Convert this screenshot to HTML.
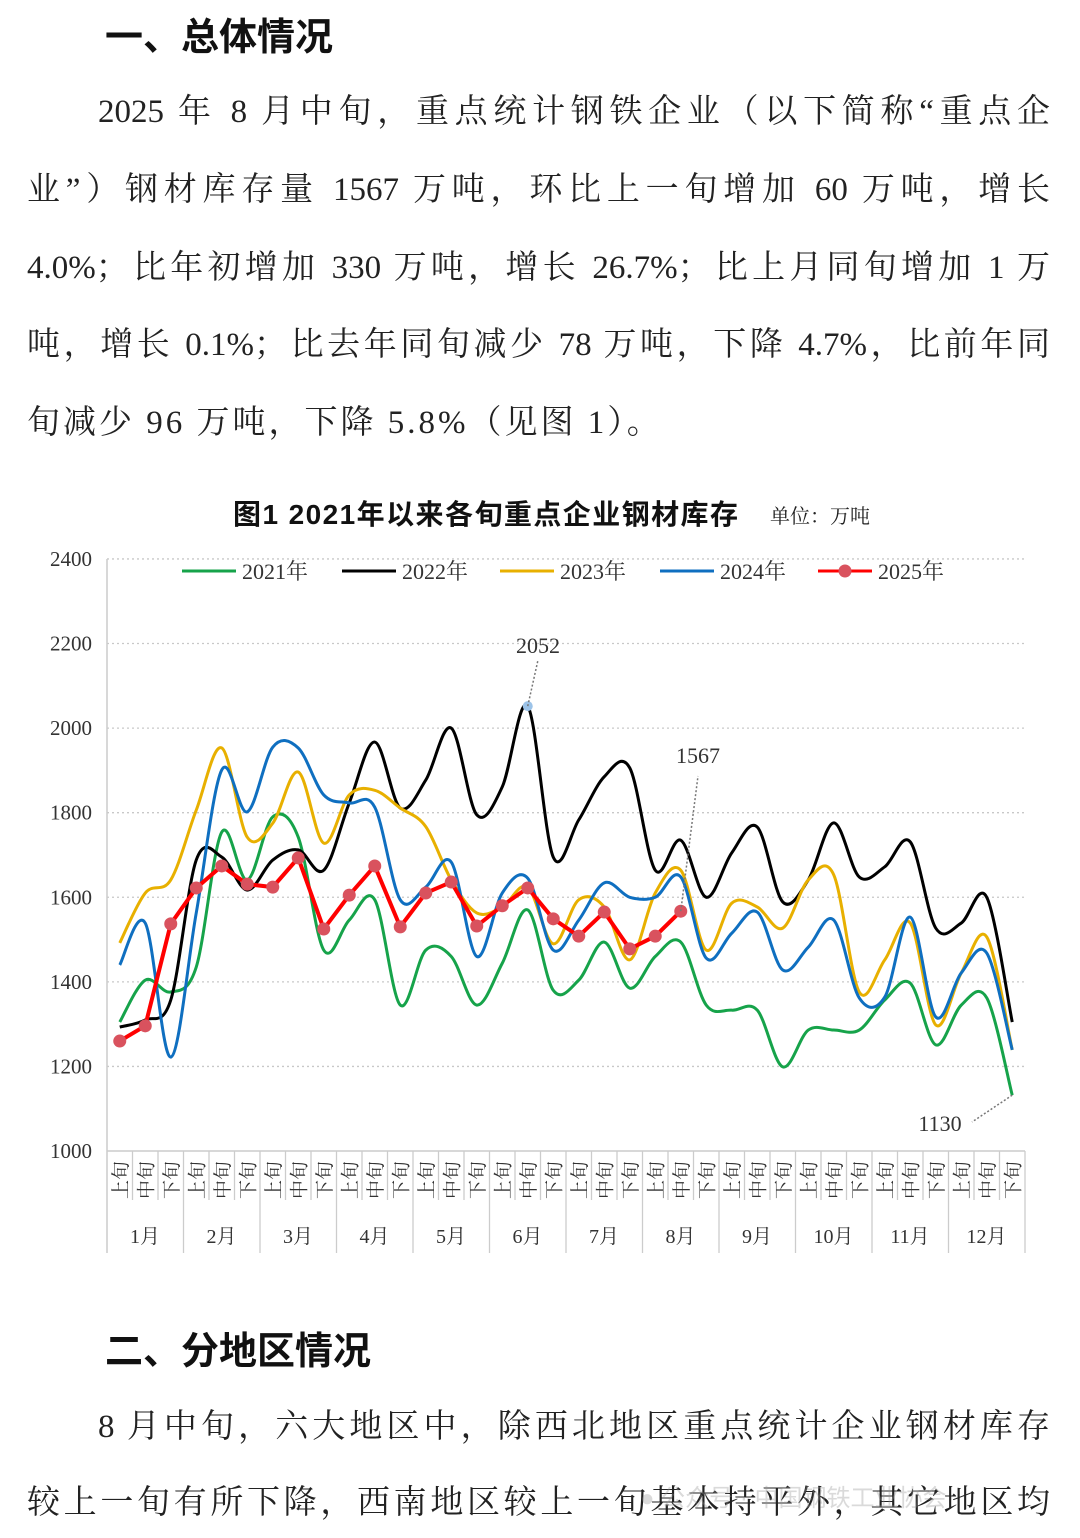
<!DOCTYPE html>
<html><head><meta charset="utf-8">
<style>
html,body{margin:0;padding:0;background:#fff;}
body{width:1080px;height:1538px;position:relative;overflow:hidden;font-family:"Liberation Serif","Noto Serif CJK SC",serif;color:#222;}
.h{position:absolute;left:105px;font-family:"Liberation Sans","Noto Sans CJK SC",sans-serif;font-weight:bold;font-size:38px;color:#111;}
.l{position:absolute;left:27px;width:1023px;font-size:33px;line-height:40px;text-align:justify;text-align-last:justify;white-space:nowrap;color:#222;}
</style></head><body>
<div class="h" style="top:6px;">一、总体情况</div>
<div class="l" style="top:92px;left:98px;width:952px;">2025 年 8 月中旬，重点统计钢铁企业（以下简称“重点企</div>
<div class="l" style="top:170px;">业”）钢材库存量 1567 万吨，环比上一旬增加 60 万吨，增长</div>
<div class="l" style="top:248px;">4.0%；比年初增加 330 万吨，增长 26.7%；比上月同旬增加 1 万</div>
<div class="l" style="top:325px;">吨，增长 0.1%；比去年同旬减少 78 万吨，下降 4.7%，比前年同</div>
<div class="l" style="top:403px;width:auto;text-align-last:auto;letter-spacing:3px;">旬减少 96 万吨，下降 5.8%（见图 1）。</div>

<svg id="c" width="1080" height="800" style="position:absolute;left:0;top:480px;" xmlns="http://www.w3.org/2000/svg"></svg>

<div class="h" style="top:1320px;">二、分地区情况</div>
<div class="l" style="top:1407px;left:98px;width:952px;">8 月中旬，六大地区中，除西北地区重点统计企业钢材库存</div>
<div class="l" style="top:1483px;">较上一旬有所下降，西南地区较上一旬基本持平外，其它地区均</div>
<div style="position:absolute;left:640px;top:1478px;font-size:24px;color:rgba(150,150,150,0.35);font-family:'Liberation Sans','Noto Sans CJK SC',sans-serif;">● 公众号 · 中国钢铁工业协会</div>

<script>
var svg=document.getElementById('c'),OY=480,s='';
function Y(v){return 1151-(v-1000)*0.4229-OY;}
function X(i){return 107+25.5*(i+0.5);}
s+='<text x="233" y="'+(524-OY)+'" font-family="Liberation Sans,Noto Sans CJK SC,sans-serif" font-weight="bold" font-size="28" fill="#111" textLength="505">图1  2021年以来各旬重点企业钢材库存</text>';
s+='<text x="770" y="'+(523-OY)+'" font-family="Liberation Serif,Noto Serif CJK SC,serif" font-size="20" fill="#222">单位：万吨</text>';
for(var v=1200;v<=2400;v+=200){s+='<line x1="107" x2="1025" y1="'+Y(v)+'" y2="'+Y(v)+'" stroke="#c8c8c8" stroke-width="1.3" stroke-dasharray="2,3"/>';}
for(var v=1000;v<=2400;v+=200){s+='<text x="92" y="'+(Y(v)+7)+'" text-anchor="end" font-size="21" fill="#333" font-family="Liberation Serif,serif">'+v+'</text>';}
s+='<line x1="107" x2="107" y1="'+Y(2400)+'" y2="'+(1253-OY)+'" stroke="#ccc" stroke-width="1.5"/>';
s+='<line x1="107" x2="1025" y1="'+Y(1000)+'" y2="'+Y(1000)+'" stroke="#ccc" stroke-width="1.5"/>';
var lab=['上','中','下'];
for(var i=0;i<36;i++){
 var x0=107+25.5*i;
 if(i>0)s+='<line x1="'+x0+'" x2="'+x0+'" y1="'+Y(1000)+'" y2="'+(i%3==0?1253-OY:1200-OY)+'" stroke="#ccc" stroke-width="1.3"/>';
 var cx=X(i),cy=1180-OY;
 s+='<text transform="translate('+(cx+7)+','+cy+') rotate(-90)" text-anchor="middle" font-size="19" fill="#333" font-family="Noto Serif CJK SC,serif">'+lab[i%3]+'旬</text>';
}
s+='<line x1="1025" x2="1025" y1="'+Y(1000)+'" y2="'+(1253-OY)+'" stroke="#ccc" stroke-width="1.3"/>';
for(var m=0;m<12;m++){s+='<text x="'+(107+76.5*m+38)+'" y="'+(1243-OY)+'" text-anchor="middle" font-size="20" fill="#333" font-family="Liberation Serif,Noto Serif CJK SC,serif">'+(m+1)+'月</text>';}
function path(d){var p=d.map(function(v,i){return [X(i),Y(v)];});var r='M'+p[0][0]+','+p[0][1];
 for(var i=0;i<p.length-1;i++){var a=p[Math.max(i-1,0)],b=p[i],c=p[i+1],e=p[Math.min(i+2,p.length-1)];
 r+=' C'+(b[0]+(c[0]-a[0])/6)+','+(b[1]+(c[1]-a[1])/6)+' '+(c[0]-(e[0]-b[0])/6)+','+(c[1]-(e[1]-b[1])/6)+' '+c[0]+','+c[1];}return r;}
var g=[1305,1404,1376,1435,1754,1641,1790,1742,1475,1546,1594,1345,1475,1460,1345,1444,1570,1380,1404,1494,1385,1460,1494,1345,1333,1333,1199,1286,1286,1286,1357,1397,1251,1345,1362,1132];
var k=[1293,1310,1357,1688,1695,1617,1688,1712,1664,1823,1967,1811,1877,2000,1795,1861,2052,1695,1783,1885,1906,1664,1735,1600,1705,1766,1589,1641,1776,1648,1672,1731,1527,1539,1600,1305];
var yl=[1492,1610,1641,1806,1953,1742,1775,1896,1728,1842,1853,1811,1767,1641,1563,1577,1624,1490,1594,1577,1452,1610,1664,1475,1586,1577,1527,1641,1653,1376,1452,1539,1298,1421,1506,1239];
var b=[1440,1539,1222,1563,1901,1802,1955,1953,1842,1823,1813,1594,1624,1683,1460,1610,1645,1475,1546,1634,1600,1600,1648,1456,1515,1565,1428,1482,1546,1362,1364,1553,1317,1421,1468,1239];
var r=[1260,1296,1537,1622,1674,1631,1624,1693,1525,1605,1674,1530,1610,1636,1532,1580,1622,1549,1508,1565,1478,1508,1567];
[[g,'#16a34a'],[k,'#000'],[yl,'#e8b000'],[b,'#0f6fc0']].forEach(function(q){s+='<path d="'+path(q[0])+'" fill="none" stroke="'+q[1]+'" stroke-width="3"/>';});
s+='<polyline points="'+r.map(function(v,i){return X(i)+','+Y(v);}).join(' ')+'" fill="none" stroke="#f00" stroke-width="4"/>';
r.forEach(function(v,i){s+='<circle cx="'+X(i)+'" cy="'+Y(v)+'" r="6.5" fill="#d9525e"/>';});
s+='<circle cx="'+X(16)+'" cy="'+Y(2052)+'" r="5" fill="#9cc3e8"/>';
s+='<line x1="'+X(16)+'" y1="'+Y(2052)+'" x2="538" y2="'+(660-OY)+'" stroke="#777" stroke-width="1.5" stroke-dasharray="2,2"/>';
s+='<text x="538" y="'+(653-OY)+'" text-anchor="middle" font-size="22" fill="#333">2052</text>';
s+='<line x1="'+X(22)+'" y1="'+Y(1567)+'" x2="698" y2="'+(776-OY)+'" stroke="#777" stroke-width="1.5" stroke-dasharray="2,2"/>';
s+='<text x="698" y="'+(763-OY)+'" text-anchor="middle" font-size="22" fill="#333">1567</text>';
s+='<line x1="'+X(35)+'" y1="'+Y(1132)+'" x2="972" y2="'+(1122-OY)+'" stroke="#777" stroke-width="1.5" stroke-dasharray="2,2"/>';
s+='<text x="940" y="'+(1131-OY)+'" text-anchor="middle" font-size="22" fill="#333">1130</text>';
var L=[['2021年','#16a34a',182],['2022年','#000',342],['2023年','#e8b000',500],['2024年','#0f6fc0',660],['2025年','#f00',818]];
L.forEach(function(q){var y=571-OY;s+='<line x1="'+q[2]+'" x2="'+(q[2]+54)+'" y1="'+y+'" y2="'+y+'" stroke="'+q[1]+'" stroke-width="3"/>';
 if(q[0]=='2025年')s+='<circle cx="'+(q[2]+27)+'" cy="'+y+'" r="6.5" fill="#d9525e"/>';
 s+='<text x="'+(q[2]+60)+'" y="'+(y+8)+'" font-size="22" fill="#333" font-family="Liberation Serif,Noto Serif CJK SC,serif">'+q[0]+'</text>';});
svg.innerHTML=s;
</script>
</body></html>
